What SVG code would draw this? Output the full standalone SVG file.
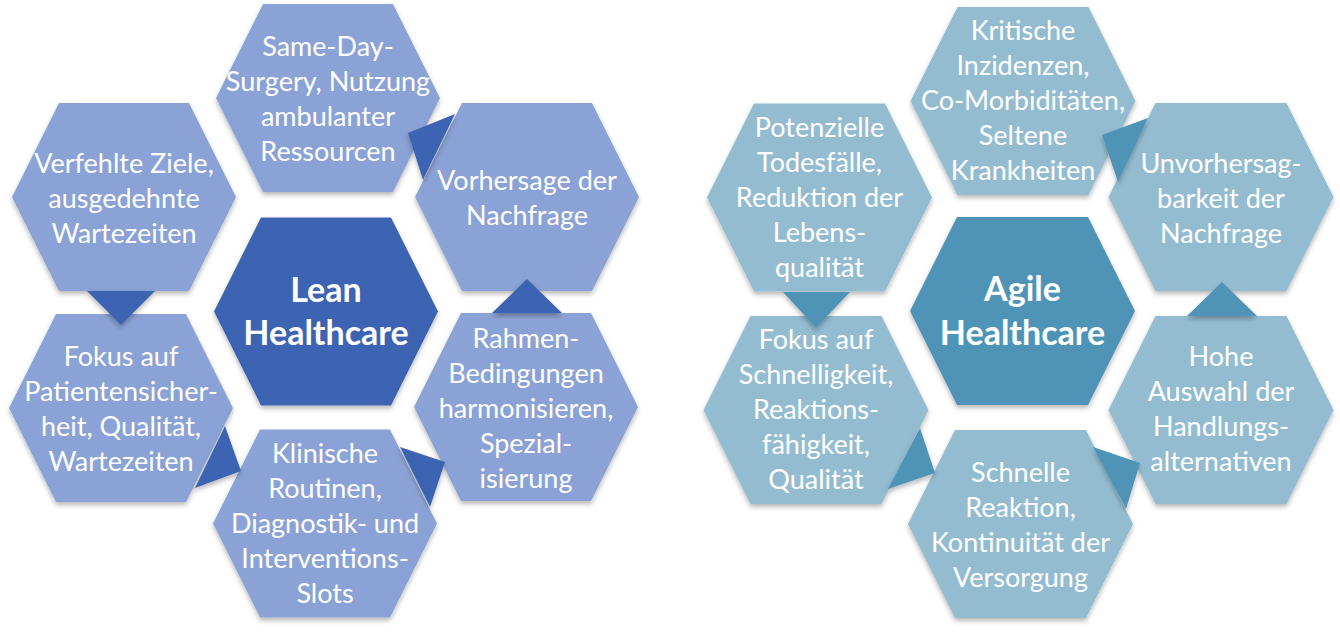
<svg xmlns="http://www.w3.org/2000/svg" width="1340" height="639" viewBox="0 0 1340 639">
<defs>
<filter id="sh" x="-10%" y="-10%" width="120%" height="125%">
<feDropShadow dx="0" dy="3" stdDeviation="2.5" flood-color="#000" flood-opacity="0.28"/>
</filter>
</defs>
<style>
.lo{fill:#8AA2D5;filter:url(#sh)}
.lc{fill:#3D63B3;filter:url(#sh)}
.ro{fill:#94BCD1;filter:url(#sh)}
.rc{fill:#4F94B6;filter:url(#sh)}
.lt{fill:#3D63B3;filter:url(#sh)}
.rt{fill:#4F94B6;filter:url(#sh)}
text{font-family:Lato,"Open Sans","Liberation Sans",sans-serif;fill:#fff;text-anchor:middle}
.t{font-size:27px}
.b{font-size:34px;font-weight:bold}
</style>
<rect width="1340" height="639" fill="#fff"/>

<g id="lean-top">
<polygon class="lo" points="263,4 393,4 440,98 393,192 263,192 216,98"/>
<text class="t"><tspan x="328" y="56">Same-Day-</tspan><tspan x="328" y="91">Surgery, Nutzung</tspan><tspan x="328" y="126">ambulanter</tspan><tspan x="328" y="161">Ressourcen</tspan></text>
</g>
<g id="lean-upper-left">
<polygon class="lo" points="59,103 189,103 236,197 189,291 59,291 12,197"/>
<text class="t"><tspan x="124" y="172.5">Verfehlte Ziele,</tspan><tspan x="124" y="207.5">ausgedehnte</tspan><tspan x="124" y="242.5">Wartezeiten</tspan></text>
</g>
<g id="lean-upper-right">
<polygon class="lo" points="462,103 592,103 639,197 592,291 462,291 415,197"/>
<text class="t"><tspan x="527" y="190">Vorhersage der</tspan><tspan x="527" y="225">Nachfrage</tspan></text>
</g>
<g id="lean-center">
<polygon class="lc" points="261,217.5 391,217.5 438,311.5 391,405.5 261,405.5 214,311.5"/>
<text class="b"><tspan x="326" y="301.5">Lean</tspan><tspan x="326" y="345">Healthcare</tspan></text>
</g>
<g id="lean-lower-left">
<polygon class="lo" points="56,314 186,314 233,408 186,502 56,502 9,408"/>
<text class="t"><tspan x="121" y="366">Fokus auf</tspan><tspan x="121" y="401">Patientensicher-</tspan><tspan x="121" y="436">heit, Qualität,</tspan><tspan x="121" y="471">Wartezeiten</tspan></text>
</g>
<g id="lean-lower-right">
<polygon class="lo" points="461,313 591,313 638,407 591,501 461,501 414,407"/>
<text class="t"><tspan x="526" y="347.5">Rahmen-</tspan><tspan x="526" y="382.5">Bedingungen</tspan><tspan x="526" y="417.5">harmonisieren,</tspan><tspan x="526" y="452.5">Spezial-</tspan><tspan x="526" y="487.5">isierung</tspan></text>
</g>
<g id="lean-bottom">
<polygon class="lo" points="260,429.5 390,429.5 437,523.5 390,617.5 260,617.5 213,523.5"/>
<text class="t"><tspan x="325" y="463">Klinische</tspan><tspan x="325" y="498">Routinen,</tspan><tspan x="325" y="533">Diagnostik- und</tspan><tspan x="325" y="568">Interventions-</tspan><tspan x="325" y="603">Slots</tspan></text>
</g>

<g id="agile-top">
<polygon class="ro" points="957.5,7 1088.5,7 1135.5,101 1088.5,195 957.5,195 910.5,101"/>
<text class="t"><tspan x="1023" y="40">Kritische</tspan><tspan x="1023" y="75">Inzidenzen,</tspan><tspan x="1023" y="110">Co-Morbiditäten,</tspan><tspan x="1023" y="145">Seltene</tspan><tspan x="1023" y="180">Krankheiten</tspan></text>
</g>
<g id="agile-upper-left">
<polygon class="ro" points="754,103.5 885,103.5 932,197.5 885,291.5 754,291.5 707,197.5"/>
<text class="t"><tspan x="819.5" y="137">Potenzielle</tspan><tspan x="819.5" y="172">Todesfälle,</tspan><tspan x="819.5" y="207">Reduktion der</tspan><tspan x="819.5" y="242">Lebens-</tspan><tspan x="819.5" y="277">qualität</tspan></text>
</g>
<g id="agile-upper-right">
<polygon class="ro" points="1155.5,103 1286.5,103 1333.5,197 1286.5,291 1155.5,291 1108.5,197"/>
<text class="t"><tspan x="1221" y="172.5">Unvorhersag-</tspan><tspan x="1221" y="207.5">barkeit der</tspan><tspan x="1221" y="242.5">Nachfrage</tspan></text>
</g>
<g id="agile-center">
<polygon class="rc" points="957,217 1088,217 1135,311 1088,405 957,405 910,311"/>
<text class="b"><tspan x="1022.5" y="301">Agile</tspan><tspan x="1022.5" y="345">Healthcare</tspan></text>
</g>
<g id="agile-lower-left">
<polygon class="ro" points="750.5,316 881.5,316 928.5,410 881.5,504 750.5,504 703.5,410"/>
<text class="t"><tspan x="816" y="349">Fokus auf</tspan><tspan x="816" y="384">Schnelligkeit,</tspan><tspan x="816" y="419">Reaktions-</tspan><tspan x="816" y="454">fähigkeit,</tspan><tspan x="816" y="489">Qualität</tspan></text>
</g>
<g id="agile-lower-right">
<polygon class="ro" points="1155.5,316 1286.5,316 1333.5,410 1286.5,504 1155.5,504 1108.5,410"/>
<text class="t"><tspan x="1221" y="366">Hohe</tspan><tspan x="1221" y="401">Auswahl der</tspan><tspan x="1221" y="436">Handlungs-</tspan><tspan x="1221" y="471">alternativen</tspan></text>
</g>
<g id="agile-bottom">
<polygon class="ro" points="955,430 1086,430 1133,524 1086,618 955,618 908,524"/>
<text class="t"><tspan x="1020.5" y="482">Schnelle</tspan><tspan x="1020.5" y="517">Reaktion,</tspan><tspan x="1020.5" y="552">Kontinuität der</tspan><tspan x="1020.5" y="587">Versorgung</tspan></text>
</g>

<g id="connectors">
<polygon class="lt" points="87,291 155,291 121,325"/>
<polygon class="lt" points="408,133 455,114 423,180"/>
<polygon class="lt" points="492,313 562,313 527,279"/>
<polygon class="lt" points="400,447 445,462 430,507"/>
<polygon class="lt" points="225,426 241,471 195,488"/>
<polygon class="rt" points="783,292 850,292 816,328"/>
<polygon class="rt" points="1102,135 1148,118 1118,182"/>
<polygon class="rt" points="1187,316 1257,316 1222,282"/>
<polygon class="rt" points="1093,447 1140,463 1126,509"/>
<polygon class="rt" points="920,428 935,473 888,489"/>
</g>
</svg>
